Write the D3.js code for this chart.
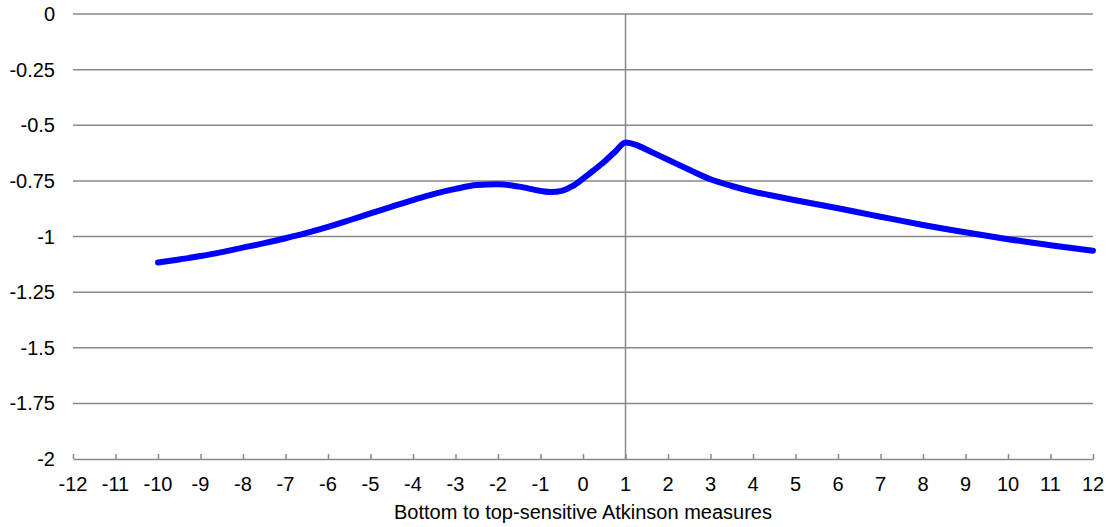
<!DOCTYPE html>
<html>
<head>
<meta charset="utf-8">
<script src="https://cdn.jsdelivr.net/npm/d3@7"></script>
<style>
  html, body { margin: 0; padding: 0; background: #fff; }
  svg { display: block; }
  text { font-family: Arial, "Liberation Sans", sans-serif; fill: #000; }
</style>
</head>
<body>
<svg id="chart" width="1109" height="527"></svg>
<script>
// ---- data ----
const xValues = [-10, -9.5, -9, -8.5, -8, -7.5, -7, -6.5, -6, -5.5, -5, -4.5, -4, -3.5, -3, -2.5, -2, -1.5, -1, -0.75, -0.5, -0.25, 0, 0.25, 0.5, 0.75, 1, 1.25, 1.5, 2, 2.5, 3, 3.5, 4, 4.5, 5, 5.5, 6, 6.5, 7, 7.5, 8, 8.5, 9, 9.5, 10, 10.5, 11, 11.5, 12];
const yValues = [-1.117, -1.103, -1.088, -1.070, -1.050, -1.030, -1.008, -0.984, -0.957, -0.927, -0.896, -0.866, -0.836, -0.808, -0.786, -0.769, -0.765, -0.776, -0.795, -0.800, -0.795, -0.774, -0.740, -0.703, -0.664, -0.620, -0.577, -0.588, -0.610, -0.655, -0.700, -0.743, -0.773, -0.798, -0.818, -0.837, -0.855, -0.873, -0.892, -0.911, -0.930, -0.948, -0.965, -0.981, -0.997, -1.012, -1.026, -1.039, -1.052, -1.064];
const xTicks = d3.range(-12, 13, 1);
const yTicks = [0, -0.25, -0.5, -0.75, -1, -1.25, -1.5, -1.75, -2];
const xLabel = "Bottom to top-sensitive Atkinson measures";
const refLineX = 1;

// ---- layout ----
const svg = d3.select("#chart");
const plotLeft = 73, plotRight = 1093, plotTop = 14, plotBottom = 459;
const x = d3.scaleLinear().domain([-12, 12]).range([plotLeft, plotRight]);
const y = d3.scaleLinear().domain([-2, 0]).range([plotBottom, plotTop]);
const grey = "#898989";
const fs = 20;

// horizontal gridlines
svg.append("g").selectAll("line")
  .data(yTicks.filter(d => d !== -2))
  .join("line")
  .attr("x1", plotLeft).attr("x2", plotRight)
  .attr("y1", d => y(d)).attr("y2", d => y(d))
  .attr("stroke", grey).attr("stroke-width", 1.5);

// y tick labels
svg.append("g").selectAll("text")
  .data(yTicks)
  .join("text")
  .attr("x", 55)
  .attr("y", d => y(d))
  .attr("dy", "0.35em")
  .attr("text-anchor", "end")
  .attr("font-size", fs)
  .text(d => String(d));

// vertical reference line
svg.append("line")
  .attr("x1", x(refLineX)).attr("x2", x(refLineX))
  .attr("y1", plotTop).attr("y2", plotBottom)
  .attr("stroke", grey).attr("stroke-width", 1.5);

// x axis
const xAxis = d3.axisTop(x).tickValues(xTicks).tickSize(5).tickSizeOuter(0).tickFormat("");
const gx = svg.append("g").attr("transform", `translate(0,${plotBottom})`).call(xAxis);
gx.select(".domain").attr("stroke", grey).attr("stroke-width", 1.5);
gx.selectAll(".tick line").attr("stroke", grey).attr("stroke-width", 1.5);

svg.append("g").selectAll("text")
  .data(xTicks)
  .join("text")
  .attr("x", d => x(d))
  .attr("y", 484)
  .attr("dy", "0.35em")
  .attr("text-anchor", "middle")
  .attr("font-size", fs)
  .text(d => d);

svg.append("text")
  .attr("x", (plotLeft + plotRight) / 2)
  .attr("y", 512)
  .attr("dy", "0.35em")
  .attr("text-anchor", "middle")
  .attr("font-size", fs)
  .text(xLabel);

// series line
const pts = xValues.map((d, i) => [d, yValues[i]]);
const line = d3.line()
  .x(d => x(d[0])).y(d => y(d[1]))
  .curve(d3.curveMonotoneX);
svg.append("path")
  .datum(pts)
  .attr("d", line)
  .attr("fill", "none")
  .attr("stroke", "#0000ff")
  .attr("stroke-width", 6)
  .attr("stroke-linecap", "round")
  .attr("stroke-linejoin", "round");
</script>
</body>
</html>
